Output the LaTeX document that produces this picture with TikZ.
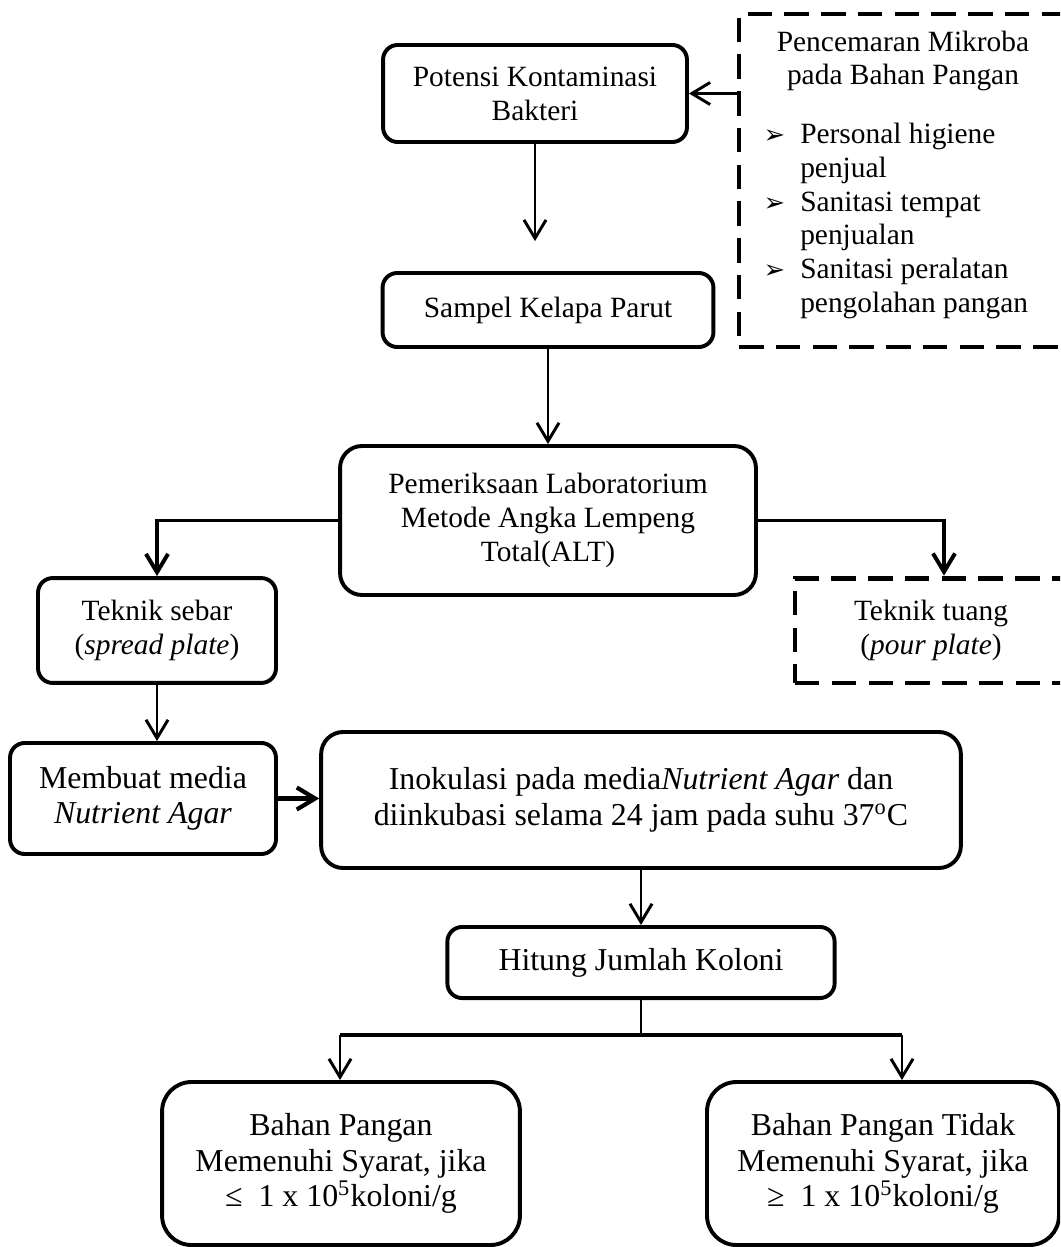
\documentclass[tikz,border=0pt]{standalone}
\usepackage{fontspec}
\setmainfont{Liberation Serif}
\newfontfamily\dingfont{DejaVu Sans}
\usetikzlibrary{arrows.meta}
\tikzset{
  kotak/.style={draw, line width=1.6pt, rounded corners=6pt, align=center, inner sep=0pt},
  putus/.style={draw, line width=2pt, dash pattern=on 10pt off 5pt, align=center, inner sep=0pt},
  panah/.style={-{Straight Barb[length=7.5pt,width=9pt]}, line width=1.2pt},
  teks/.style={font=\fontsize{12}{13.8}\selectfont},
  teksbesar/.style={font=\fontsize{13}{14.5}\selectfont}
}
\newcommand\butir{\makebox[15pt][l]{\dingfont\fontsize{10.5}{10.5}\selectfont ➢}}

\begin{document}
\begin{tikzpicture}[x=0.408pt, y=-0.408pt]
  \path[use as bounding box] (0,0) rectangle (1060,1247);
  \clip (0,0) rectangle (1060,1247);

  \node[kotak, teks, minimum width=124pt, minimum height=39.6pt] (potensi) at (535,93.5) {Potensi Kontaminasi\\Bakteri};
  \node[kotak, teks, minimum width=135pt, minimum height=30.2pt] (sampel) at (548,310) {Sampel Kelapa Parut};
  \node[kotak, teks, rounded corners=9pt, minimum width=169.7pt, minimum height=60.8pt] (alt) at (548,520.5) {Pemeriksaan Laboratorium\\Metode Angka Lempeng\\Total(ALT)};

  % sumber pencemaran
  \node[putus, minimum width=133.8pt, minimum height=135.9pt] (mikroba) at (903,180.5) {};
  \node[teks, align=center] (judul) at (903,61) {Pencemaran Mikroba\\pada Bahan Pangan};
  \node[teks, align=left, anchor=west, inner sep=0pt] (daftar) at (763,221) {\butir Personal higiene\\\hspace*{15pt}penjual\\\butir Sanitasi tempat\\\hspace*{15pt}penjualan\\\butir Sanitasi peralatan\\\hspace*{15pt}pengolahan pangan};

  \node[kotak, teks, minimum width=97.1pt, minimum height=42.8pt] (sebar) at (157,630.5) {Teknik sebar\\(\textit{spread plate})};
  \node[putus, teks, minimum width=111pt, minimum height=42.8pt] (tuang) at (931,630.5) {Teknik tuang\\(\textit{pour plate})};

  \node[kotak, teksbesar, minimum width=108.5pt, minimum height=45.3pt] (media) at (143,798.5) {Membuat media\\\textit{Nutrient Agar}};
  \node[kotak, teksbesar, rounded corners=9pt, minimum width=261pt, minimum height=55.5pt] (inokulasi) at (641,800) {Inokulasi pada media\textit{Nutrient Agar} dan\\diinkubasi selama 24 jam pada suhu 37\textsuperscript{o}C};
  \node[kotak, teksbesar, minimum width=158pt, minimum height=29pt] (hitung) at (641,962.5) {Hitung Jumlah Koloni};

  \node[kotak, teksbesar, rounded corners=12pt, minimum width=146pt, minimum height=66.5pt] (memenuhi) at (341,1163.5) {Bahan Pangan\\Memenuhi Syarat, jika\\≤\ \ 1 x 10\textsuperscript{5}koloni/g};
  \node[kotak, teksbesar, rounded corners=12pt, minimum width=143.6pt, minimum height=66.5pt] (tidak) at (883,1163.5) {Bahan Pangan Tidak\\Memenuhi Syarat, jika\\≥\ \ 1 x 10\textsuperscript{5}koloni/g};

  \coordinate (cabangkiri) at (340,1035);
  \coordinate (cabangkanan) at (902,1035);

  \draw[panah] (mikroba.west |- potensi.east) -- (potensi.east);
  \draw[panah, shorten >=12.2pt] (potensi.south) -- (potensi.south |- sampel.north);
  \draw[panah] (sampel.south) -- (sampel.south |- alt.north);
  \draw[panah, line width=1.6pt] (alt.west) -| (sebar.north);
  \draw[panah, line width=1.6pt] (alt.east) -| ([xshift=5.3pt]tuang.north);
  \draw[panah] (sebar.south) -- (sebar.south |- media.north);
  \draw[panah, line width=1.7pt] (media.east) -- (inokulasi.west |- media.east);
  \draw[panah] (inokulasi.south) -- (hitung.north);
  \draw[line width=1.2pt] (hitung.south) -- (hitung.south |- cabangkiri);
  \draw[line width=1.6pt] (cabangkiri) -- (cabangkanan);
  \draw[panah] (cabangkiri) -- (cabangkiri |- memenuhi.north);
  \draw[panah] (cabangkanan) -- (cabangkanan |- tidak.north);
\end{tikzpicture}
\end{document}
